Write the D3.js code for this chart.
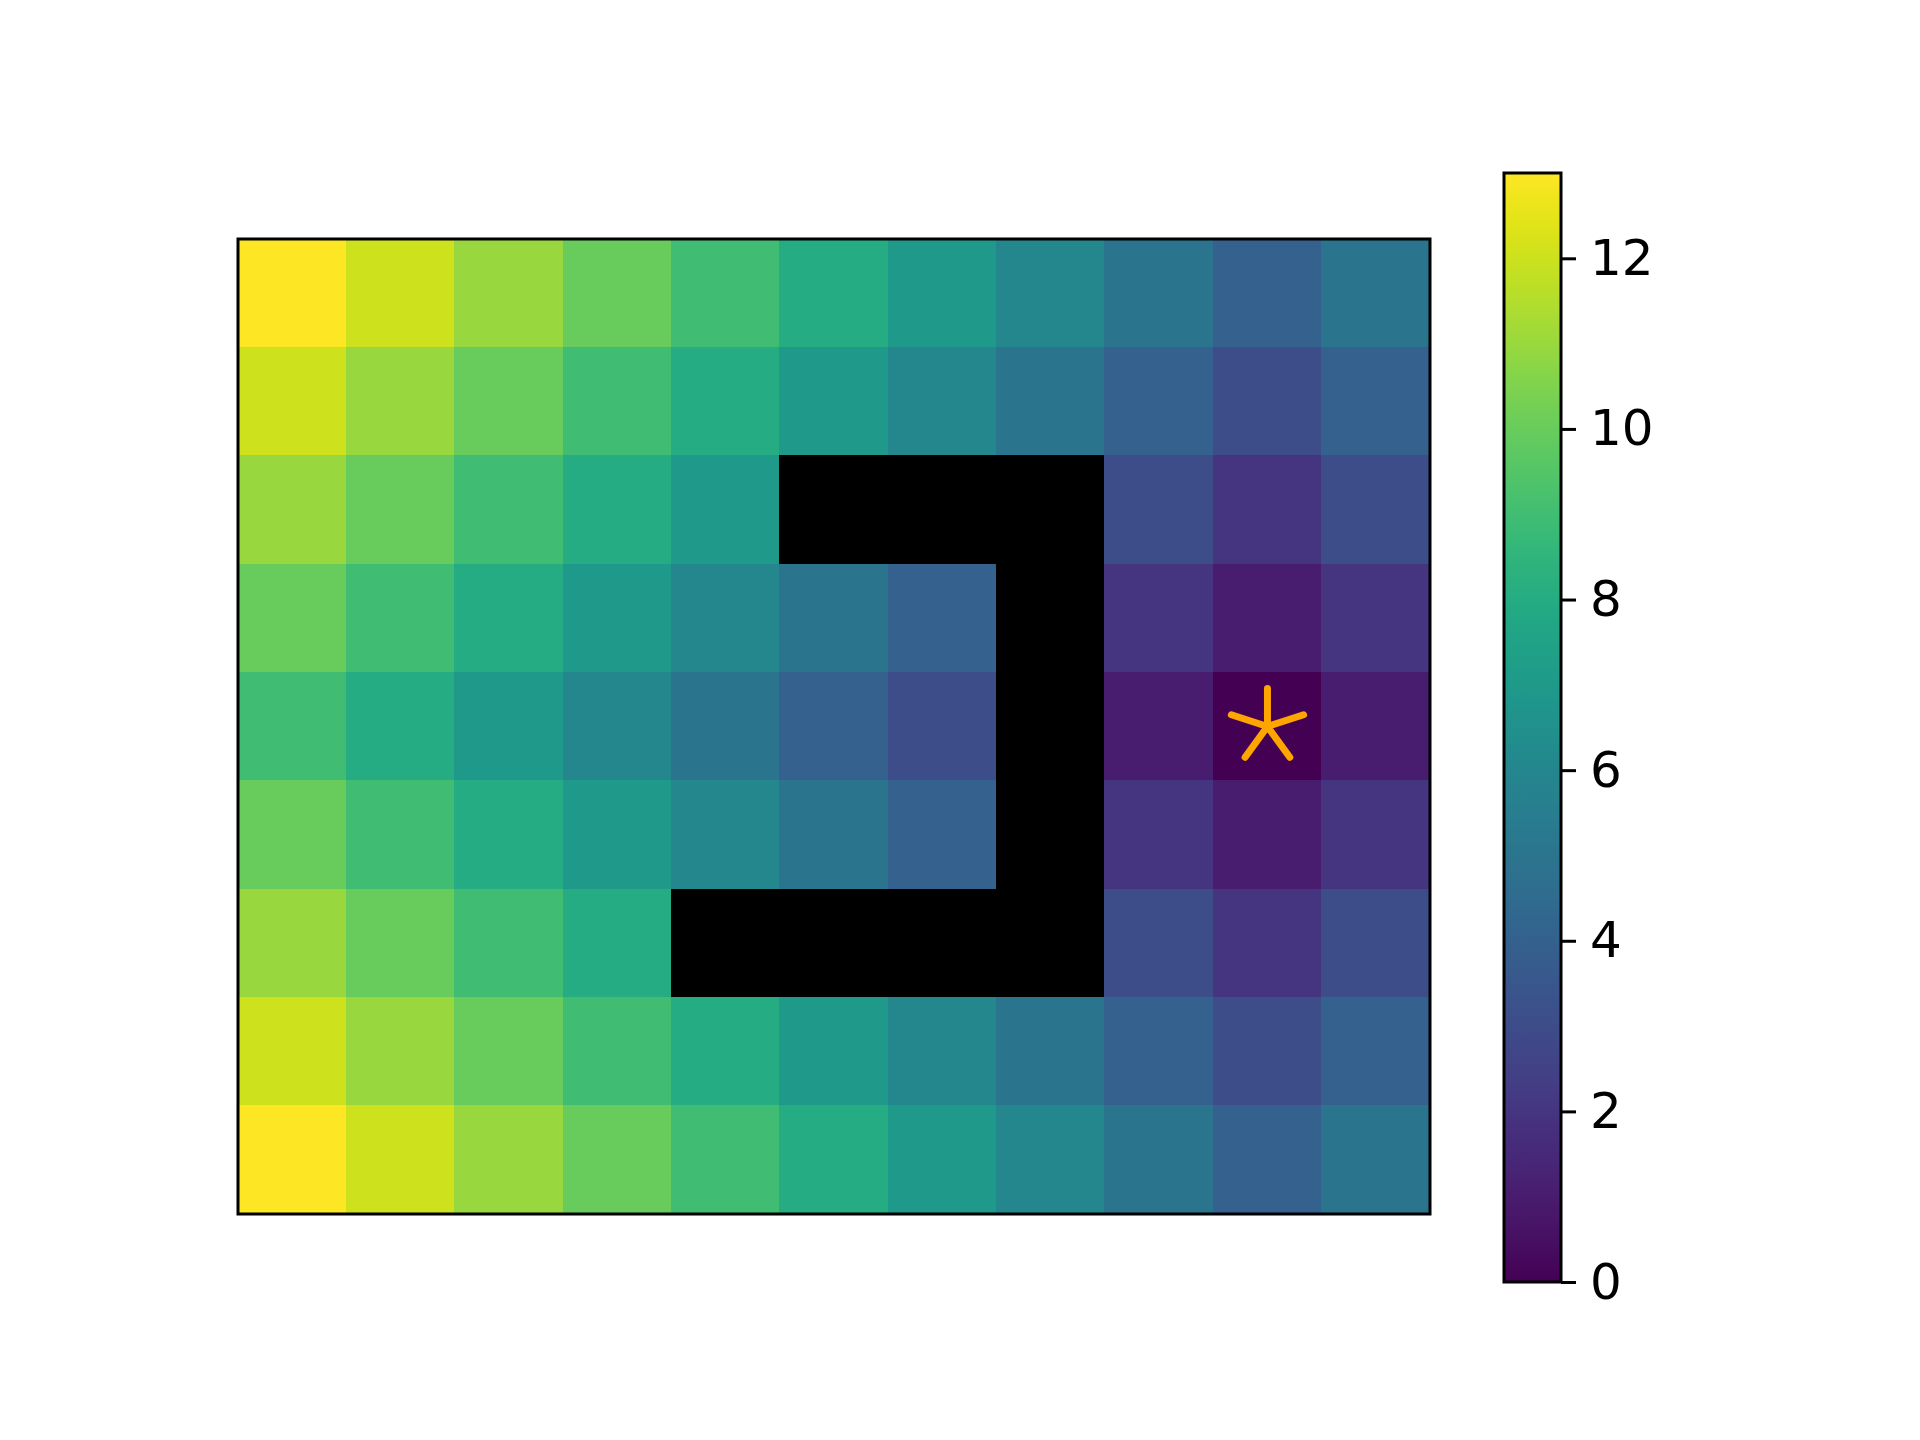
<!DOCTYPE html>
<html>
<head>
<meta charset="utf-8">
<script src="https://cdn.jsdelivr.net/npm/d3@7"></script>
<style>
  body { margin: 0; background: #fff; }
  text { font-family: "DejaVu Sans", sans-serif; }
</style>
</head>
<body>
<div id="chart"></div>
<script>
// grid of distances to the goal, null = wall (drawn black)
const rowsData = [
  [13, 12, 11, 10, 9, 8, 7, 6, 5, 4, 5],
  [12, 11, 10, 9, 8, 7, 6, 5, 4, 3, 4],
  [11, 10, 9, 8, 7, null, null, null, 3, 2, 3],
  [10, 9, 8, 7, 6, 5, 4, null, 2, 1, 2],
  [9, 8, 7, 6, 5, 4, 3, null, 1, 0, 1],
  [10, 9, 8, 7, 6, 5, 4, null, 2, 1, 2],
  [11, 10, 9, 8, null, null, null, null, 3, 2, 3],
  [12, 11, 10, 9, 8, 7, 6, 5, 4, 3, 4],
  [13, 12, 11, 10, 9, 8, 7, 6, 5, 4, 5]
];
const goal = { col: 9, row: 4 };
const colorTicks = [0, 2, 4, 6, 8, 10, 12];
const valueRange = [0, 13];

const W = 1920, H = 1440;
const plot = { left: 238, top: 239, right: 1430, bottom: 1214 };
const cbar = { left: 1504, right: 1561, top: 173, bottom: 1282 };

const svg = d3.select("#chart").append("svg")
  .attr("width", W).attr("height", H);

const nCols = rowsData[0].length, nRows = rowsData.length;
const x = d3.scaleBand().domain(d3.range(nCols)).range([plot.left, plot.right]).padding(0);
const y = d3.scaleBand().domain(d3.range(nRows)).range([plot.top, plot.bottom]).padding(0);
const color = d3.scaleSequential(d3.interpolateViridis).domain(valueRange);

// flatten into cells
const cells = [];
rowsData.forEach((row, r) => row.forEach((v, c) => cells.push({ r, c, v })));

svg.append("g")
  .attr("shape-rendering", "crispEdges")
  .selectAll("rect")
  .data(cells)
  .join("rect")
  .attr("x", d => Math.floor(x(d.c)))
  .attr("y", d => Math.floor(y(d.r)))
  .attr("width", d => Math.ceil(x(d.c) + x.bandwidth()) - Math.floor(x(d.c)) + 1)
  .attr("height", d => Math.ceil(y(d.r) + y.bandwidth()) - Math.floor(y(d.r)) + 1)
  .attr("fill", d => d.v === null ? "#000" : color(d.v));

// goal marker: 5-armed asterisk
const cx = x(goal.col) + x.bandwidth() / 2, cy = y(goal.row) + y.bandwidth() / 2;
const armLen = 38;
let starPath = "";
for (let i = 0; i < 5; i++) {
  const a = -Math.PI / 2 + i * 2 * Math.PI / 5;
  starPath += `M${cx},${cy}L${cx + armLen * Math.cos(a)},${cy + armLen * Math.sin(a)}`;
}
svg.append("path")
  .attr("d", starPath)
  .attr("stroke", "#ffa500")
  .attr("stroke-width", 7)
  .attr("stroke-linecap", "round")
  .attr("stroke-linejoin", "round")
  .attr("fill", "none");

// axes frame
svg.append("rect")
  .attr("x", plot.left).attr("y", plot.top)
  .attr("width", plot.right - plot.left).attr("height", plot.bottom - plot.top)
  .attr("fill", "none").attr("stroke", "#000").attr("stroke-width", 3);

// colorbar
const grad = svg.append("defs").append("linearGradient")
  .attr("id", "viridis").attr("x1", 0).attr("y1", 1).attr("x2", 0).attr("y2", 0);
d3.range(0, 1.0001, 0.02).forEach(t => {
  grad.append("stop").attr("offset", t).attr("stop-color", d3.interpolateViridis(t));
});
svg.append("rect")
  .attr("x", cbar.left).attr("y", cbar.top)
  .attr("width", cbar.right - cbar.left).attr("height", cbar.bottom - cbar.top)
  .attr("fill", "url(#viridis)")
  .attr("stroke", "#000").attr("stroke-width", 3);

const cScale = d3.scaleLinear().domain(valueRange).range([cbar.bottom, cbar.top]);
const cAxis = svg.append("g")
  .attr("transform", `translate(${cbar.right},0)`)
  .call(d3.axisRight(cScale).tickValues(colorTicks).tickSize(15).tickPadding(14));
cAxis.select(".domain").remove();
cAxis.selectAll(".tick line").attr("stroke", "#000").attr("stroke-width", 3);
cAxis.selectAll(".tick text")
  .attr("fill", "#000")
  .style("font-family", "'DejaVu Sans', sans-serif")
  .style("font-size", "50px");
</script>
</body>
</html>
